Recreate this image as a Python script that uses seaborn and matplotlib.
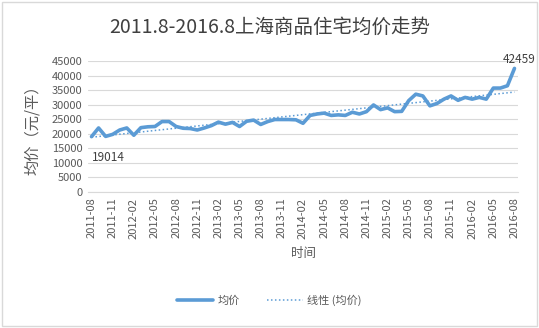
import numpy as np
import pandas as pd
import matplotlib
matplotlib.use("Agg")
import matplotlib.pyplot as plt
import seaborn as sns
from matplotlib.lines import Line2D
from matplotlib.patches import Rectangle

months = pd.period_range("2011-08", "2016-08", freq="M").strftime("%Y-%m").tolist()
prices = [19014, 22000, 19100, 19800, 21300, 22000, 19500, 22100, 22400, 22500,
          24200, 24200, 22500, 21900, 21800, 21300, 22000, 22800, 24000, 23300,
          23900, 22500, 24300, 24700, 23200, 24200, 24900, 24900, 24900, 24800,
          23600, 26300, 26800, 27100, 26300, 26500, 26300, 27400, 26800, 27600,
          29900, 28300, 28900, 27600, 27700, 31400, 33600, 33000, 29600, 30400,
          31900, 33000, 31500, 32500, 31900, 32500, 31900, 35700, 35700, 36500,
          42459]
tick_labels = months[::3]
title = "2011.8-2016.8上海商品住宅均价走势"
y_label = "均价（元/平）"
x_label = "时间"
series_name = "均价"
trend_name = "线性 (均价)"

sns.set_theme(style="white")
plt.rcParams['font.family'] = ['Noto Sans CJK SC', 'DejaVu Sans']

df = pd.DataFrame({"idx": np.arange(len(prices)), "month": months, "price": prices})

blue = "#5B9BD5"
txt = "#595959"

fig = plt.figure(figsize=(5.39, 3.28), dpi=100)
fig.patch.set_facecolor("white")
ax = fig.add_axes([88/539, 1-192/328, (518-88)/539, (192-61)/328])

sns.lineplot(data=df, x="idx", y="price", ax=ax, color=blue, linewidth=2.6, zorder=3)
sns.regplot(data=df, x="idx", y="price", ax=ax, scatter=False, ci=None,
            line_kws=dict(color=blue, linestyle=(0, (1, 1.6)), linewidth=1.1, zorder=4))

ax.set_xlim(-0.5, len(prices) - 0.5)
ax.set_ylim(0, 45000)
ax.set_yticks(np.arange(0, 45001, 5000))
ax.set_yticklabels([str(v) for v in range(0, 45001, 5000)], fontsize=8, color=txt)
ax.set_xticks(np.arange(0, len(prices), 3))
ax.set_xticklabels(tick_labels, rotation=90, fontsize=8, color=txt)
ax.tick_params(axis="both", length=0, pad=4)
ax.grid(axis="y", color="#D9D9D9", linewidth=0.8)
ax.set_axisbelow(True)
for s in ["top", "right", "left"]:
    ax.spines[s].set_visible(False)
ax.spines["bottom"].set_color("#D9D9D9")
ax.spines["bottom"].set_linewidth(0.8)

ax.set_xlabel(x_label, fontsize=9, color=txt, labelpad=6)
ax.set_ylabel(y_label, fontsize=11, color=txt, labelpad=8)

ax.annotate(str(prices[0]), xy=(0, prices[0]), xytext=(0, -10), textcoords="offset points",
            ha="left", va="top", fontsize=8.5, color="#404040")
ax.annotate(str(prices[-1]), xy=(len(prices) - 1, prices[-1]), xytext=(3, 2), textcoords="offset points",
            ha="center", va="bottom", fontsize=8.5, color="#404040")

fig.text(0.5, 1 - 27/328, title, ha="center", va="center", fontsize=14, color="#404040")

handles = [Line2D([0], [0], color=blue, linewidth=2.6),
           Line2D([0], [0], color=blue, linestyle=(0, (1, 1.6)), linewidth=1.1)]
fig.legend(handles, [series_name, trend_name], loc="center", bbox_to_anchor=(0.5, 1 - 300/328),
           ncol=2, frameon=False, fontsize=8, labelcolor=txt, handlelength=3.2, columnspacing=2.5,
           handletextpad=0.4)

fig.add_artist(Rectangle((2/539, 2/328), 1 - 4/539, 1 - 4/328, transform=fig.transFigure,
                         fill=False, edgecolor="#D9D9D9", linewidth=1))

fig.savefig("out.png", dpi=100)
